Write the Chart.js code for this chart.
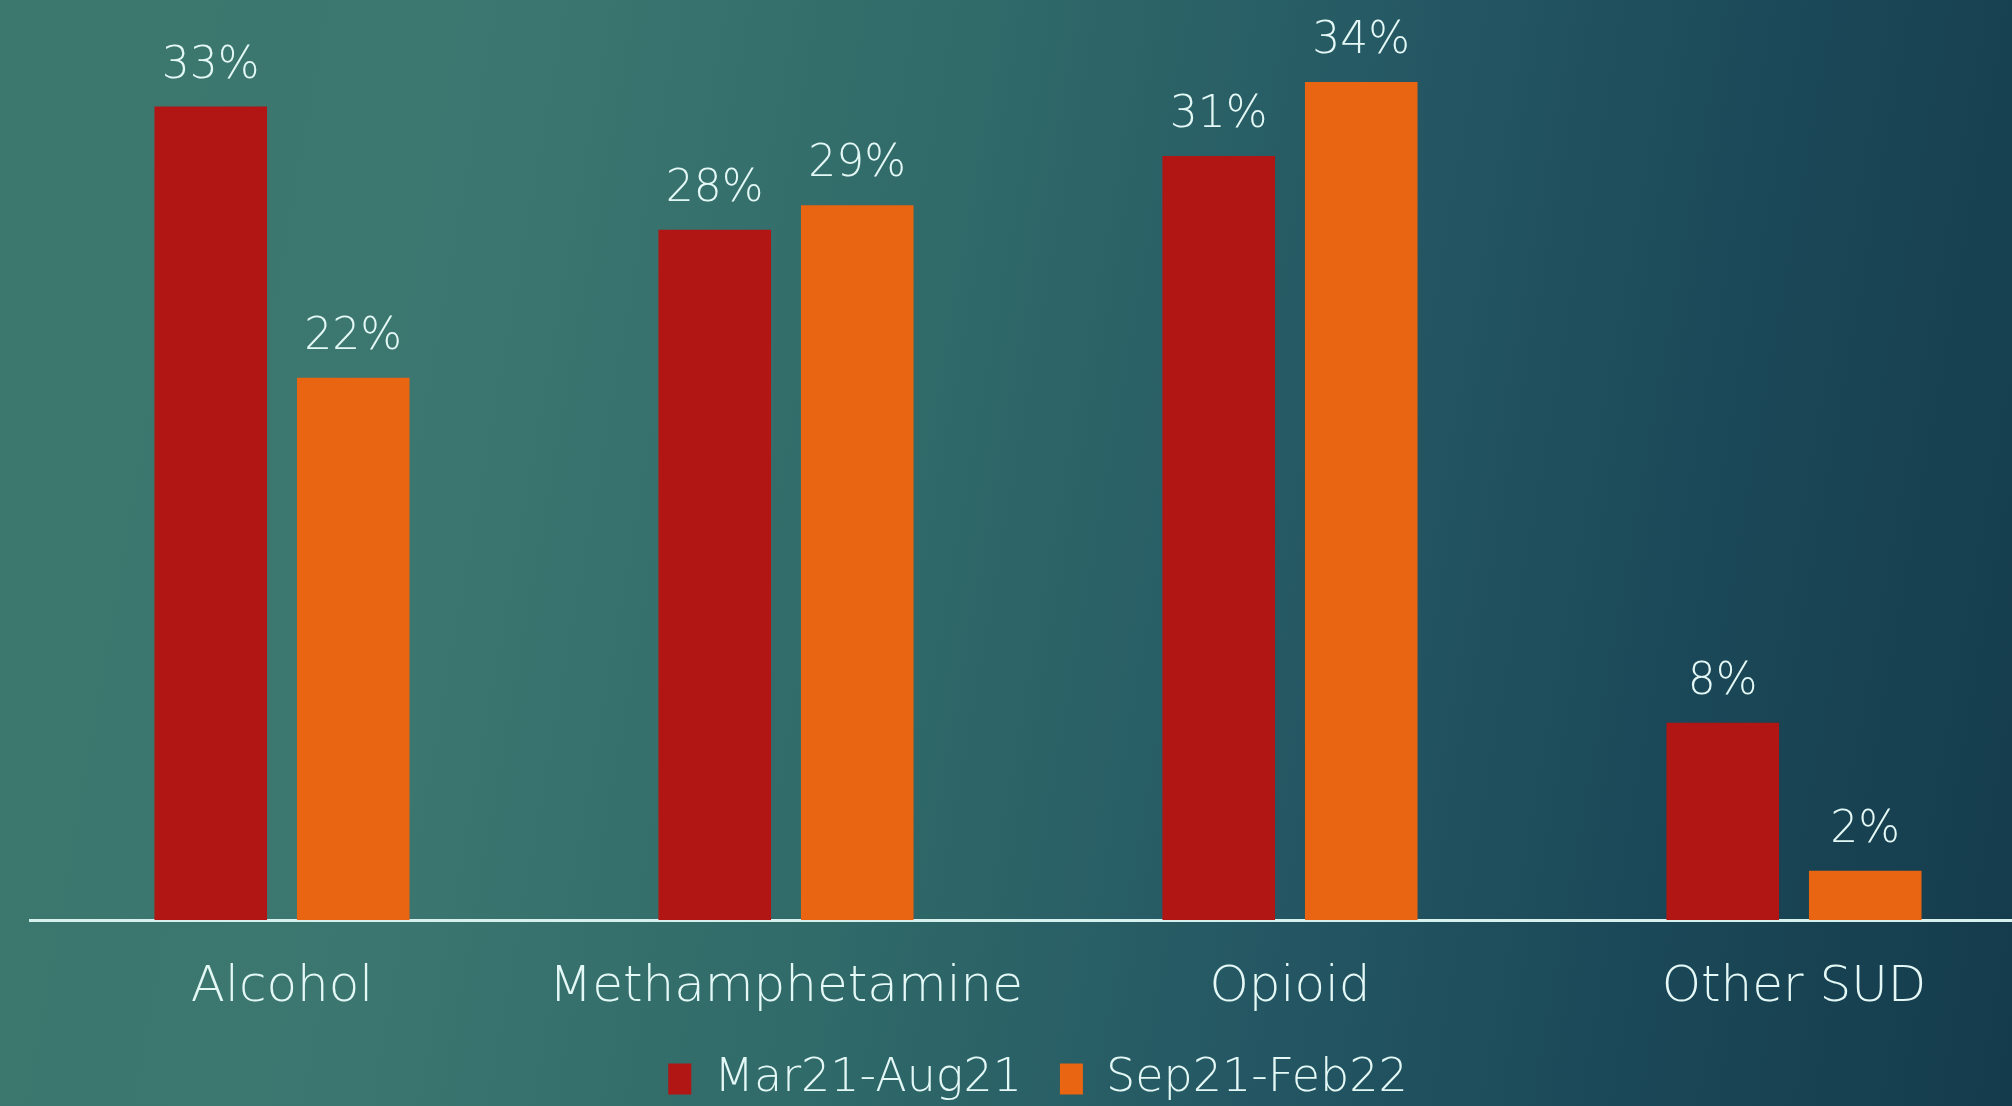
<!DOCTYPE html>
<html>
<head>
<meta charset="utf-8">
<script src="https://cdn.jsdelivr.net/npm/chart.js@4.4.1/dist/chart.umd.min.js"></script>
<style>
  html, body { margin: 0; padding: 0; width: 2012px; height: 1106px; overflow: hidden; }
  body {
    background: linear-gradient(100deg, #3d786e 0%, #3b7670 25%, #306a69 45%, #245763 65%, #1b4858 82%, #143b4b 100%);
  }
  #wrap { position: absolute; left: 0; top: 0; width: 2060px; height: 1106px; }
</style>
</head>
<body>
<div id="wrap"><canvas id="c" width="2060" height="1106"></canvas></div>
<script>
const categories = ["Alcohol", "Methamphetamine", "Opioid", "Other SUD"];
const seriesNames = ["Mar21-Aug21", "Sep21-Feb22"];
const seriesA = [33, 28, 31, 8];
const seriesB = [22, 29, 34, 2];

const FONT = "'DejaVu Sans', 'Open Sans', sans-serif";
const WEIGHT = '200';
const TEXT = "#e4f8f6";

const valueLabels = {
  id: 'valueLabels',
  afterDatasetsDraw(chart) {
    const ctx = chart.ctx;
    ctx.save();
    ctx.font = WEIGHT + " 44px " + FONT;
    ctx.fillStyle = TEXT;
    ctx.textAlign = 'center';
    ctx.textBaseline = 'alphabetic';
    chart.data.datasets.forEach((ds, di) => {
      const meta = chart.getDatasetMeta(di);
      meta.data.forEach((el, i) => {
        ctx.fillText(ds.data[i] + '%', el.x, el.y - 29);
      });
    });
    ctx.restore();
  }
};

new Chart(document.getElementById('c'), {
  type: 'bar',
  data: {
    labels: categories,
    datasets: [
      { label: seriesNames[0], data: seriesA, backgroundColor: '#b11514', categoryPercentage: 0.5655, barPercentage: 0.79 },
      { label: seriesNames[1], data: seriesB, backgroundColor: '#e96511', categoryPercentage: 0.5655, barPercentage: 0.79 }
    ]
  },
  options: {
    responsive: false,
    devicePixelRatio: 1,
    animation: false,
    layout: { padding: { top: 8, left: 30, right: 14, bottom: -6 } },
    scales: {
      x: {
        grid: { display: false, drawTicks: false },
        border: { display: true, color: '#d6f0ee', width: 3 },
        ticks: { color: TEXT, font: { family: FONT, size: 50, weight: WEIGHT }, padding: 38 },
        afterFit(scale) { scale.height = 98; }
      },
      y: { display: false, min: 0, max: 37 }
    },
    plugins: {
      tooltip: { enabled: false },
      legend: {
        position: 'bottom',
        labels: {
          color: TEXT,
          font: { family: FONT, size: 46, weight: WEIGHT },
          boxWidth: 23,
          boxHeight: 31,
          padding: 38
        }
      }
    }
  },
  plugins: [valueLabels]
});
</script>
</body>
</html>
